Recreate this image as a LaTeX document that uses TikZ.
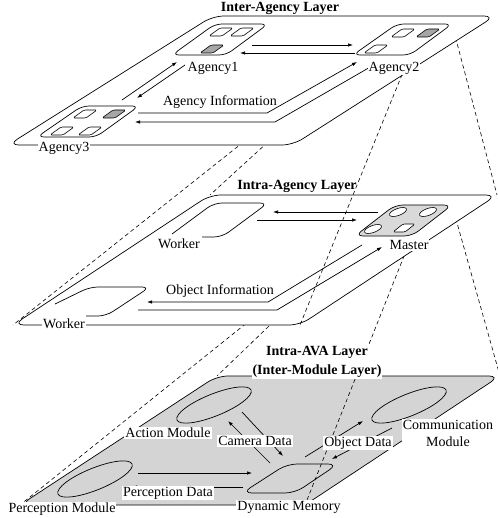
\documentclass[tikz,border=0pt]{standalone}
\usepackage{fontspec}
\setmainfont{Liberation Serif}
\usetikzlibrary{arrows.meta,shapes.geometric}
\newcommand{\minibx}[3]{\filldraw[mini, fill=#3, shift={(#1,#2)}] (-12,4) -- (-1,-4) -- (12,-4) -- (1,4) -- cycle;}
\newcommand{\smallell}[2]{\draw[line width=0.6pt, fill=white, rotate around={20:(#1,#2)}] (#1,#2) ellipse [x radius=9pt, y radius=3.5pt];}
\begin{document}
\begin{tikzpicture}[x=1pt,y=-1pt, line width=0.7pt,
  font=\fontsize{14}{17}\selectfont,
  layer/.style={draw, rounded corners=11pt},
  box/.style={draw, rounded corners=7pt},
  mini/.style={draw, rounded corners=1.5pt, line width=0.6pt},
  arr/.style={-{Latex[length=5pt,width=3.5pt]}},
  proj/.style={dash pattern=on 4pt off 3pt, line width=0.6pt},
  lbl/.style={fill=white, inner sep=1pt},
  ttl/.style={font=\fontsize{14}{17}\selectfont\bfseries, inner sep=1pt},
  module/.style={draw, ellipse, minimum width=80pt, minimum height=22pt, rotate=22, inner sep=0pt}
]
\useasboundingbox (0,0) rectangle (497,518);

% ---------- corner coordinates ----------
\coordinate (TBL) at (8,145);   \coordinate (TTL) at (213,16);
\coordinate (TTR) at (495,16);  \coordinate (TBR) at (293,145);
\coordinate (MBL) at (13,325);  \coordinate (MTL) at (210,195);
\coordinate (MTR) at (497,195); \coordinate (MBR) at (300,325);
\coordinate (BBL) at (20,505);  \coordinate (BTL) at (217,376);
\coordinate (BTR) at (500,376); \coordinate (BBR) at (305,505);
\coordinate (A2BL) at (353,55); \coordinate (A2TL) at (397,24);
\coordinate (A2TR) at (452,24); \coordinate (A2BR) at (410,55);
\coordinate (MaBL) at (355,236); \coordinate (MaTL) at (395,205);
\coordinate (MaTR) at (452,205); \coordinate (MaBR) at (412,236);

% ================= bottom layer =================
\draw[layer, fill=black!17] (BBL) -- (BTL) -- (BTR) -- (BBR) -- cycle;
% projection lines Master -> bottom layer
\draw[proj] (MaBL) -- (BBL);
\draw[proj] (MaTL) -- (BTL);
\draw[proj] (MaTR) -- (BTR);
\draw[proj] (MaBR) -- (BBR);

\node[module] (am) at (214,405) {};
\node[module] (pm) at (95,479) {};
\node[module] (cm) at (409,405) {};
\draw[box, rounded corners=10pt] (242,493) -- (287,464) -- (338,464) -- (295,493) -- cycle;

\coordinate (pd1s) at (138,473); \coordinate (pd1e) at (252,473);
\coordinate (pd2s) at (243,487); \coordinate (pd2e) at (132,487);
\coordinate (cd1s) at (270,463); \coordinate (cd1e) at (228,421);
\coordinate (cd2s) at (242,412); \coordinate (cd2e) at (283,456);
\coordinate (od1s) at (305,457); \coordinate (od1e) at (363,421);
\coordinate (od2s) at (392,428); \coordinate (od2e) at (332,459);
\draw[arr] (pd1s) -- (pd1e);
\draw[arr] (pd2s) -- (pd2e);
\draw[arr] (cd1s) -- (cd1e);
\draw[arr] (cd2s) -- (cd2e);
\draw[arr] (od1s) -- (od1e);
\draw[arr] (od2s) -- (od2e);

\node[ttl, fill=white, align=center, font=\fontsize{14}{19}\selectfont\bfseries] (t3) at (317,362) {Intra-AVA Layer\\(Inter-Module Layer)};
\node[lbl] (lam) at (168,433) {Action Module};
\node[lbl] (lcd) at (255,441) {Camera Data};
\node[lbl] (lpd) at (168,493) {Perception Data};
\node[lbl] (lpm) at (62,509) {Perception Module};
\node[lbl] (ldm) at (289,507) {Dynamic Memory};
\node[lbl] (lod) at (358,443) {Object Data};
\node[lbl, align=center] (lcm) at (448,433) {Communication\\Module};

% ================= middle layer =================
\draw[layer, fill=white] (MBL) -- (MTL) -- (MTR) -- (MBR) -- cycle;
\draw[box, rounded corners=8pt] (172,234) -- (214,203) -- (268,203) -- (222,237) -- (202,237);
\draw[box, rounded corners=8pt] (55,304) -- (90,287) -- (150,287) -- (106,316) -- (86,316);
\draw[box, rounded corners=8pt, fill=black!15] (MaBL) -- (MaTL) -- (MaTR) -- (MaBR) -- cycle;
\smallell{398}{212}
\smallell{428}{212}
\smallell{373}{229}
\filldraw[mini, fill=white, shift={(404,228)}] (-11,4) -- (-1,-4) -- (11,-4) -- (1,4) -- cycle;

\coordinate (wm1s) at (378,212); \coordinate (wm1e) at (273,212);
\coordinate (wm2s) at (257,220); \coordinate (wm2e) at (357,220);
\draw[arr] (wm1s) -- (wm1e);
\draw[arr] (wm2s) -- (wm2e);
\coordinate (oi1a) at (362,245); \coordinate (oi1b) at (268,302); \coordinate (oi1c) at (147,302);
\coordinate (oi2a) at (138,310); \coordinate (oi2b) at (277,310); \coordinate (oi2c) at (382,247);
\draw[arr] (oi1a) -- (oi1b) -- (oi1c);
\draw[arr] (oi2a) -- (oi2b) -- (oi2c);

\node[ttl] (t2) at (297,186) {Intra-Agency Layer};
\node[lbl] (lw1) at (179,244) {Worker};
\node[lbl] (lw2) at (64,324) {Worker};
\node[lbl] (lma) at (409,245) {Master};
\node (loi) at (220,291) {Object Information};

% projection lines Agency2 -> middle layer
\draw[proj] (A2BL) -- (MBL);
\draw[proj] (A2TL) -- (MTL);
\draw[proj] (A2TR) -- (MTR);
\draw[proj] (A2BR) -- (MBR);

% ================= top layer =================
\draw[layer, fill=white] (TBL) -- (TTL) -- (TTR) -- (TBR) -- cycle;
\draw[box] (172,55) -- (215,24) -- (268,24) -- (226,55) -- cycle;
\draw[box] (A2BL) -- (A2TL) -- (A2TR) -- (A2BR) -- cycle;
\draw[box] (37,137) -- (82,106) -- (139,106) -- (96,137) -- cycle;
\minibx{221}{32}{white}
\minibx{242}{32}{white}
\minibx{212}{49}{black!35}
\minibx{403}{33}{white}
\minibx{428}{33}{black!35}
\minibx{376}{49}{white}
\minibx{85}{114}{white}
\minibx{114}{114}{black!35}
\minibx{62}{131}{white}
\minibx{90}{131}{white}

\coordinate (a12s) at (252,45);  \coordinate (a12e) at (353,45);
\coordinate (a21s) at (355,53);  \coordinate (a21e) at (240,53);
\coordinate (a31s) at (122,100); \coordinate (a31e) at (177,62);
\coordinate (a13s) at (185,65);  \coordinate (a13e) at (137,98);
\draw[arr] (a12s) -- (a12e);
\draw[arr] (a21s) -- (a21e);
\draw[arr] (a31s) -- (a31e);
\draw[arr] (a13s) -- (a13e);
\coordinate (ai1a) at (138,113); \coordinate (ai1b) at (267,113); \coordinate (ai1c) at (357,62);
\coordinate (ai2a) at (372,66);  \coordinate (ai2b) at (275,122); \coordinate (ai2c) at (135,122);
\draw[arr] (ai1a) -- (ai1b) -- (ai1c);
\draw[arr] (ai2a) -- (ai2b) -- (ai2c);

\node[ttl] (t1) at (280,8) {Inter-Agency Layer};
\node[lbl] (la1) at (213,68) {Agency1};
\node[lbl] (la2) at (394,68) {Agency2};
\node[lbl] (la3) at (64,148) {Agency3};
\node (lai) at (220,102) {Agency Information};
\end{tikzpicture}
\end{document}
